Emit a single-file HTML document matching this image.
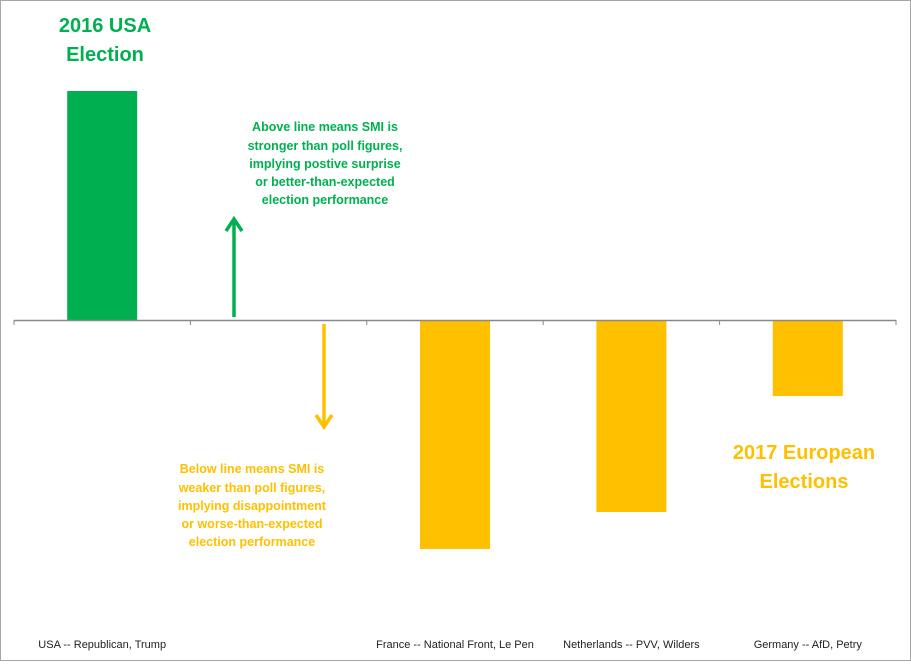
<!DOCTYPE html>
<html><head><meta charset="utf-8"><style>
body{margin:0;background:#fff;font-family:"Liberation Sans",sans-serif}
svg text{font-family:"Liberation Sans",sans-serif}
</style></head><body>
<svg width="911" height="661" viewBox="0 0 911 661">
<rect x="0.5" y="0.5" width="910" height="660" fill="#fff" stroke="#a6a6a6"/>
<g id="bars"></g>
<line x1="14" y1="320.5" x2="896" y2="320.5" stroke="#898989" stroke-width="1.5"/>
<g id="ticks"></g>
<g id="labels"></g>
<text x="105" y="32" text-anchor="middle" font-size="20" font-weight="bold" fill="#00b050">2016 USA</text>
<text x="105" y="61" text-anchor="middle" font-size="20" font-weight="bold" fill="#00b050">Election</text>
<text x="804" y="459" text-anchor="middle" font-size="20" font-weight="bold" fill="#ffc000">2017 European</text>
<text x="804" y="488" text-anchor="middle" font-size="20" font-weight="bold" fill="#ffc000">Elections</text>
<g font-size="12.5" font-weight="bold" fill="#00b050" text-anchor="middle">
<text x="325" y="131">Above line means SMI is</text>
<text x="325" y="150">stronger than poll figures,</text>
<text x="325" y="168">implying postive surprise</text>
<text x="325" y="186">or better-than-expected</text>
<text x="325" y="204">election performance</text>
</g>
<g font-size="12.5" font-weight="bold" fill="#ffc000" text-anchor="middle">
<text x="252" y="473">Below line means SMI is</text>
<text x="252" y="492">weaker than poll figures,</text>
<text x="252" y="510">implying disappointment</text>
<text x="252" y="528">or worse-than-expected</text>
<text x="252" y="546">election performance</text>
</g>
<g stroke="#00b050" stroke-width="3.5" fill="none">
<line x1="234" y1="317" x2="234" y2="220"/><polyline points="226,231 234,219 242,231"/>
</g>
<g stroke="#ffc000" stroke-width="3.5" fill="none">
<line x1="324" y1="324" x2="324" y2="425"/><polyline points="316,415 324,427 332,415"/>
</g>
</svg>
<script>
const categories=["USA -- Republican, Trump","","France -- National Front, Le Pen","Netherlands -- PVV, Wilders","Germany -- AfD, Petry"];
const values=[2.29,null,-2.29,-1.92,-0.76];
const x0=14,x1=896,y0=320,pxPerUnit=100,barW=70;
const n=categories.length,cw=(x1-x0)/n;
const xs=i=>x0+cw*i+cw/2;
const ys=v=>y0-v*pxPerUnit;
const NS="http://www.w3.org/2000/svg";
const bars=document.getElementById('bars'),ticks=document.getElementById('ticks'),labels=document.getElementById('labels');
values.forEach((v,i)=>{
 if(v==null)return;
 const r=document.createElementNS(NS,'rect');
 
 
 const y=Math.min(ys(v),y0),h=Math.abs(ys(v)-y0);
 r.setAttribute('x',xs(i)-barW/2);r.setAttribute('y',y);r.setAttribute('width',barW);r.setAttribute('height',h);
 r.setAttribute('fill',v>0?'#00b050':'#ffc000');
 bars.appendChild(r);
});
for(let i=0;i<=n;i++){
 const t=document.createElementNS(NS,'line');
 
 
 const x=x0+cw*i;
 t.setAttribute('x1',x);t.setAttribute('x2',x);t.setAttribute('y1',320);t.setAttribute('y2',325);t.setAttribute('stroke','#898989');
 ticks.appendChild(t);
}
categories.forEach((c,i)=>{
 const t=document.createElementNS(NS,'text');
 
 
 t.setAttribute('x',xs(i));t.setAttribute('y',648);t.setAttribute('text-anchor','middle');t.setAttribute('font-size','11');t.setAttribute('fill','#222');
 t.textContent=c;labels.appendChild(t);
});
</script>
</body></html>
